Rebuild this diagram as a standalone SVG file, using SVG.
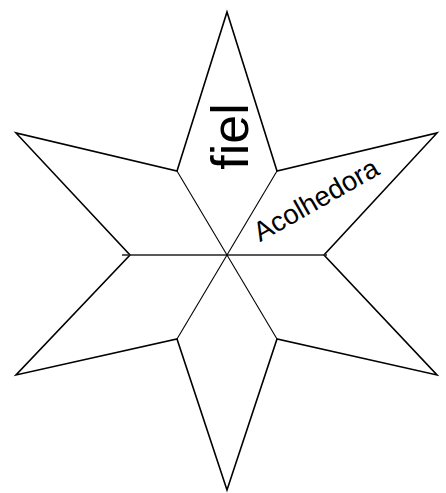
<svg xmlns="http://www.w3.org/2000/svg" width="446" height="493" viewBox="0 0 446 493">
<style>
.outline{fill:none;stroke:#000;stroke-width:1.6;stroke-linejoin:miter}
.spoke{fill:none;stroke:#000;stroke-width:1.1}
.axis{fill:none;stroke:#222;stroke-width:1.6}
.lbl{font-family:"Liberation Sans",Arial,sans-serif;fill:#000}
</style>
<rect width="446" height="493" fill="#fff"/>
<g id="star">
<path class="outline" d="M227,12 L277,171 L437,133 L324,255 L437,375 L277,339 L227,490 L177,339 L16,375 L130,255 L16,133 L177,171 Z"/>
</g>
<g id="connectors">
<line class="axis" x1="122" y1="255" x2="327" y2="255"/>
<line class="spoke" x1="177" y1="171" x2="277" y2="339"/>
<line class="spoke" x1="277" y1="171" x2="177" y2="339"/>
</g>
<g id="fiel">
<text class="lbl" font-size="52" text-anchor="middle" transform="translate(247.5,136.5) rotate(-90)">fiel</text>
</g>
<g id="acolhedora">
<text class="lbl" font-size="27.5" text-anchor="middle" transform="translate(320.5,208) rotate(-29.5)">Acolhedora</text>
</g>
</svg>
